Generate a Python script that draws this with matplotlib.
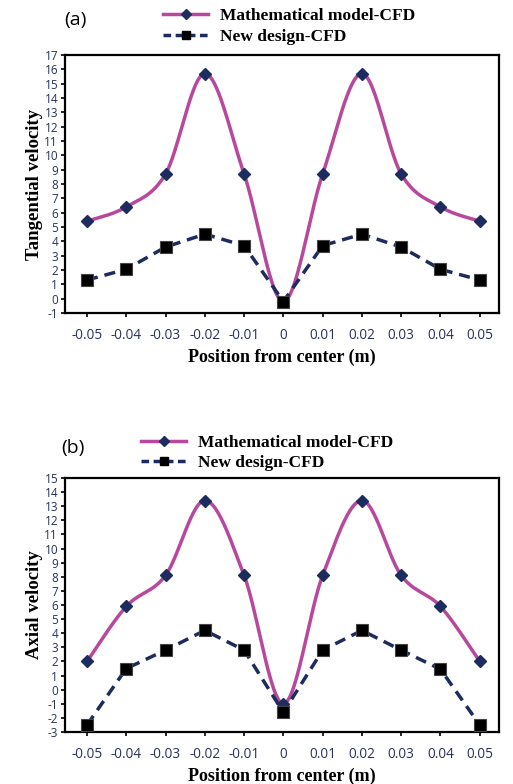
import numpy as np
import matplotlib.pyplot as plt
from matplotlib.lines import Line2D

plt.rcParams['axes.unicode_minus'] = False

# positions across the cyclone (m)
pos = [-0.05, -0.04, -0.03, -0.02, -0.01, 0, 0.01, 0.02, 0.03, 0.04, 0.05]
pos_labels = ['-0.05', '-0.04', '-0.03', '-0.02', '-0.01', '0',
              '0.01', '0.02', '0.03', '0.04', '0.05']

# (a) tangential velocity
tang_math = [5.4, 6.4, 8.7, 15.7, 8.7, -0.2, 8.7, 15.7, 8.7, 6.4, 5.4]
tang_new = [1.3, 2.05, 3.6, 4.5, 3.7, -0.2, 3.7, 4.5, 3.6, 2.05, 1.3]

# (b) axial velocity
ax_math = [2.0, 5.9, 8.1, 13.4, 8.1, -1.0, 8.1, 13.4, 8.1, 5.9, 2.0]
ax_new = [-2.5, 1.5, 2.8, 4.2, 2.8, -1.6, 2.8, 4.2, 2.8, 1.45, -2.5]

purple = '#b8489e'
navy = '#1c2c5e'
tick_col = '#27325c'
serif = 'Liberation Serif'


def smooth(x, y, n=30):
    # excel-style smoothed line (cardinal bezier through the points)
    x = np.asarray(x, float)
    y = np.asarray(y, float)
    px = np.concatenate([[x[0]], x, [x[-1]]])
    py = np.concatenate([[y[0]], y, [y[-1]]])
    xs, ys = [], []
    t = np.linspace(0, 1, n)
    for i in range(1, len(px) - 2):
        p0 = np.array([px[i], py[i]])
        p3 = np.array([px[i + 1], py[i + 1]])
        p1 = p0 + (np.array([px[i + 1], py[i + 1]]) - np.array([px[i - 1], py[i - 1]])) / 6
        p2 = p3 - (np.array([px[i + 2], py[i + 2]]) - np.array([px[i], py[i]])) / 6
        b = ((1 - t) ** 3)[:, None] * p0 + (3 * (1 - t) ** 2 * t)[:, None] * p1 \
            + (3 * (1 - t) * t ** 2)[:, None] * p2 + (t ** 3)[:, None] * p3
        xs.extend(b[:, 0])
        ys.extend(b[:, 1])
    return xs, ys


def panel(ax, ymath, ynew, ylo, yhi, ylabel):
    sx, sy = smooth(pos, ymath)
    ax.plot(sx, sy, color=purple, lw=2.5, zorder=2)
    ax.plot(pos, ymath, ls='none', marker='D', ms=6, color=navy, zorder=3)
    ax.plot(pos, ynew, color=navy, lw=2.5, ls=(0, (3.2, 2.0)), marker='s',
            ms=8, mfc='black', mec='#444444', mew=0.8, zorder=4)
    ax.set_xlim(-0.0556, 0.0549)
    ax.set_ylim(ylo, yhi)
    ax.set_xticks(pos)
    ax.set_xticklabels(pos_labels)
    ax.set_yticks(np.arange(ylo, yhi + 1, 1))
    ax.tick_params(axis='both', direction='out', length=3, width=1.2,
                   labelcolor=tick_col, pad=2)
    ax.tick_params(axis='y', labelsize=8.5)
    ax.tick_params(axis='x', labelsize=9.8, pad=8)
    for lab in ax.get_xticklabels() + ax.get_yticklabels():
        lab.set_family('Open Sans')
    for s in ax.spines.values():
        s.set_linewidth(1.6)
        s.set_color('black')
    ax.set_xlabel('Position from center (m)', fontfamily=serif,
                  fontweight='bold', fontsize=13, labelpad=4)
    ax.set_ylabel(ylabel, fontfamily=serif, fontweight='bold',
                  fontsize=13.5, labelpad=1)


fig = plt.figure(figsize=(5.13, 7.84), dpi=100)

ax1 = fig.add_axes([0.1267, 0.6008, 0.846, 0.329])
panel(ax1, tang_math, tang_new, -1, 17, 'Tangential velocity')

ax2 = fig.add_axes([0.1267, 0.0663, 0.846, 0.324])
panel(ax2, ax_math, ax_new, -3, 15, 'Axial velocity')

h1 = Line2D([], [], color=purple, lw=2.5, marker='D', ms=5, mfc=navy, mec=navy)
h2 = Line2D([], [], color=navy, lw=2.5, ls=(0, (2.2, 1.3)), marker='s', ms=5.5,
            mfc='black', mec='black')

for lx, ly, tag, tx, ty in [(0.318, 0.9665, '(a)', 0.125, 0.975),
                            (0.275, 0.4225, '(b)', 0.12, 0.429)]:
    fig.legend([h1, h2], ['Mathematical model-CFD', 'New design-CFD'],
               loc='center left', bbox_to_anchor=(lx, ly), frameon=False,
               prop={'family': serif, 'weight': 'bold', 'size': 12.5},
               handlelength=2.6, handletextpad=0.7, labelspacing=0.25,
               borderpad=0.0, borderaxespad=0.0)
    fig.text(tx, ty, tag, fontfamily='Open Sans', fontsize=14, va='center')

fig.savefig('out.png', dpi=100)
